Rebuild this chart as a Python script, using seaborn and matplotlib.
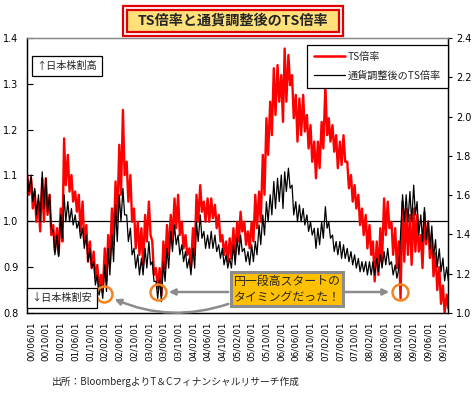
import matplotlib
matplotlib.use("Agg")
import numpy as np
import pandas as pd
import seaborn as sns
import matplotlib.pyplot as plt
from matplotlib.patches import Rectangle, FancyArrowPatch

# ---------------- data (two readings per month) ----------------
start_date = "2000-05-01"
ts_ratio = [
    1.101, 1.058, 1.094, 1.028, 1.065, 0.999, 1.043, 0.978, 1.094, 0.999, 1.094, 1.014, 1.058, 0.970, 0.992, 0.934, 0.985, 0.927, 1.028, 0.956,
    1.181, 1.079, 1.145, 1.065, 1.101, 1.043, 1.065, 1.021, 1.058, 0.978, 1.043, 0.956, 0.992, 0.912, 0.956, 0.898, 0.934, 0.876, 0.905, 0.854,
    0.883, 0.847, 0.941, 0.869, 0.970, 0.905, 1.028, 0.949, 1.087, 0.999, 1.167, 1.058, 1.243, 1.101, 1.130, 1.043, 1.101, 0.999, 1.028, 0.941,
    0.999, 0.927, 0.985, 0.905, 1.014, 0.956, 1.043, 0.970, 0.956, 0.883, 0.898, 0.854, 0.898, 0.839, 0.956, 0.898, 0.992, 0.927, 1.014, 0.956,
    1.050, 0.985, 1.058, 0.970, 0.999, 0.941, 0.970, 0.927, 0.941, 0.898, 0.985, 0.927, 1.058, 0.999, 1.079, 1.021, 1.043, 0.999, 1.050, 0.999,
    1.050, 1.007, 1.036, 0.985, 1.014, 0.956, 0.970, 0.927, 0.956, 0.912, 0.963, 0.919, 0.985, 0.927, 0.999, 0.956, 1.021, 0.978, 0.999, 0.949,
    0.978, 0.941, 0.999, 0.956, 1.058, 0.985, 1.065, 0.999, 1.145, 1.058, 1.225, 1.145, 1.261, 1.188, 1.334, 1.232, 1.341, 1.261, 1.319, 1.217,
    1.377, 1.261, 1.363, 1.297, 1.319, 1.225, 1.276, 1.174, 1.268, 1.188, 1.276, 1.196, 1.232, 1.159, 1.210, 1.130, 1.174, 1.094, 1.174, 1.116,
    1.217, 1.159, 1.297, 1.188, 1.225, 1.174, 1.210, 1.152, 1.188, 1.116, 1.174, 1.123, 1.188, 1.130, 1.130, 1.072, 1.101, 1.043, 1.079, 1.028,
    1.058, 0.992, 1.028, 0.970, 1.014, 0.941, 0.992, 0.927, 0.956, 0.869, 0.956, 0.883, 0.985, 0.912, 1.050, 0.970, 1.043, 0.985, 0.999, 0.927,
    0.985, 0.898, 0.956, 0.832, 1.043, 0.912, 1.028, 0.927, 1.014, 0.905, 1.028, 0.934, 1.014, 0.934, 0.970, 0.898, 1.020, 0.950, 1.000, 0.920,
    0.970, 0.880, 0.930, 0.850, 0.900, 0.820, 0.860, 0.800, 0.840, 0.810,
]
ts_ratio_fx_adjusted = [
    1.094, 1.065, 1.101, 1.043, 1.072, 1.014, 1.058, 0.999, 1.108, 1.028, 1.094, 1.021, 1.058, 0.985, 0.978, 0.927, 0.970, 0.923, 1.014, 0.963,
    1.058, 0.999, 1.043, 0.999, 1.028, 0.992, 1.014, 0.985, 0.999, 0.963, 0.985, 0.941, 0.970, 0.912, 0.941, 0.898, 0.912, 0.861, 0.883, 0.839,
    0.861, 0.832, 0.905, 0.847, 0.941, 0.883, 0.970, 0.912, 1.036, 0.956, 1.058, 0.999, 1.072, 1.014, 1.014, 0.956, 0.985, 0.927, 0.941, 0.898,
    0.927, 0.883, 0.919, 0.883, 0.941, 0.898, 0.956, 0.905, 0.912, 0.869, 0.869, 0.832, 0.876, 0.825, 0.912, 0.869, 0.941, 0.898, 0.978, 0.934,
    0.992, 0.949, 0.970, 0.927, 0.949, 0.912, 0.934, 0.898, 0.919, 0.883, 0.941, 0.898, 0.999, 0.956, 1.014, 0.963, 0.978, 0.941, 0.970, 0.941,
    0.978, 0.941, 0.970, 0.934, 0.949, 0.919, 0.941, 0.905, 0.927, 0.898, 0.919, 0.898, 0.949, 0.905, 0.963, 0.927, 0.970, 0.934, 0.941, 0.912,
    0.934, 0.905, 0.949, 0.912, 0.956, 0.927, 0.992, 0.949, 1.014, 0.970, 1.043, 0.999, 1.058, 1.014, 1.087, 1.028, 1.094, 1.043, 1.101, 1.028,
    1.108, 1.065, 1.116, 1.072, 1.079, 1.014, 1.043, 0.999, 1.036, 0.999, 1.028, 0.992, 1.014, 0.978, 0.999, 0.970, 0.985, 0.941, 0.985, 0.949,
    0.999, 0.963, 1.032, 0.985, 0.999, 0.963, 0.970, 0.934, 0.956, 0.927, 0.956, 0.919, 0.949, 0.919, 0.941, 0.912, 0.934, 0.905, 0.927, 0.898,
    0.919, 0.890, 0.912, 0.890, 0.912, 0.883, 0.912, 0.883, 0.912, 0.883, 0.919, 0.890, 0.927, 0.898, 0.934, 0.905, 0.941, 0.905, 0.912, 0.883,
    0.905, 0.876, 0.898, 0.970, 1.058, 0.999, 1.058, 0.999, 1.065, 0.999, 1.079, 1.014, 1.043, 0.970, 1.014, 0.956, 1.030, 0.960, 1.000, 0.940,
    0.990, 0.920, 0.960, 0.900, 0.940, 0.890, 0.920, 0.870, 0.900, 0.870,
]
series_labels = ["TS倍率", "通貨調整後のTS倍率"]
left_ticks = [0.8, 0.9, 1.0, 1.1, 1.2, 1.3, 1.4]
right_ticks = [1.0, 1.2, 1.4, 1.6, 1.8, 2.0, 2.2, 2.4]
x_tick_start, x_tick_end = "2000-06-01", "2009-10-01"
title = "TS倍率と通貨調整後のTS倍率"
note_high = "↑日本株割高"
note_low = "↓日本株割安"
callout = "円一段高スタートの\nタイミングだった！"
source = "出所：BloombergよりT＆Cフィナンシャルリサーチ作成"
circle_dates = ["2002-01-25", "2003-04-15", "2008-10-10"]
circle_values = [0.842, 0.845, 0.845]

# ---------------- figure ----------------
sns.set_theme(style="white")
plt.rcParams["font.family"] = ["Noto Sans CJK JP", "DejaVu Sans"]

W, H = 474, 393
fig = plt.figure(figsize=(W / 100, H / 100), dpi=100)
fig.patch.set_facecolor("white")

def fx(px):
    return px / W

def fy(py):
    return 1 - py / H

ax = fig.add_axes([fx(27), fy(313), fx(448) - fx(27), fy(38) - fy(313)])
ax.set_facecolor("white")

dates = pd.date_range(start_date, periods=len(ts_ratio), freq="SMS")
df = pd.DataFrame({"date": dates, series_labels[0]: ts_ratio, series_labels[1]: ts_ratio_fx_adjusted})

ax.axhline(1.0, color="black", lw=0.9, zorder=1)
sns.lineplot(data=df, x="date", y=series_labels[0], color="#ff0000", lw=1.7, ax=ax, zorder=2)
sns.lineplot(data=df, x="date", y=series_labels[1], color="black", lw=0.9, ax=ax, zorder=3)

ax.set_xlim(pd.Timestamp("2000-04-28"), pd.Timestamp("2009-11-12"))
ax.set_ylim(0.8, 1.4)
ax.set_xlabel("")
ax.set_ylabel("")
ax.set_yticks(left_ticks)
ax.set_yticklabels([f"{v:.1f}" for v in left_ticks], fontsize=7, family="DejaVu Sans")
xt = pd.date_range(x_tick_start, x_tick_end, freq="4MS")
ax.set_xticks(xt)
ax.set_xticklabels([d.strftime("%y/%m/%d") for d in xt], rotation=90, fontsize=6.3, family="DejaVu Sans")
ax.tick_params(axis="y", direction="in", length=4, width=0.8, pad=6, colors="black")
ax.tick_params(axis="x", direction="out", length=3, width=0.8, pad=3, colors="black")

ax2 = ax.twinx()
ax2.set_ylim(1.0, 2.4)
ax2.set_yticks(right_ticks)
ax2.set_yticklabels([f"{v:.1f}" for v in right_ticks], fontsize=7, family="DejaVu Sans")
ax2.tick_params(axis="y", direction="out", length=3, width=0.8, pad=3, colors="black")
ax2.grid(False)
ax.grid(False)

for a in (ax, ax2):
    for side in ("left", "bottom", "right"):
        a.spines[side].set_color("black")
        a.spines[side].set_linewidth(0.9)
    a.spines["top"].set_color("#888888")
    a.spines["top"].set_linewidth(0.9)

# circles marking the turning points
ax.plot(pd.to_datetime(circle_dates), circle_values, "o", ms=11.5, mfc="none",
        mec="#F58220", mew=1.8, zorder=5)

# legend
handles = [plt.Line2D([], [], color="#ff0000", lw=1.8), plt.Line2D([], [], color="black", lw=0.9)]
leg = ax2.legend(handles, series_labels, loc="upper right", bbox_to_anchor=(1.0, 0.975),
                 borderaxespad=0, frameon=True, fancybox=False, edgecolor="black", framealpha=1,
                 fontsize=7.3, handlelength=3.0, borderpad=0.7, labelspacing=0.85,
                 handletextpad=0.3)
leg.get_frame().set_linewidth(0.9)

# annotation boxes
fig.text(fx(67), fy(66), note_high, fontsize=7.3, ha="center", va="center",
         bbox=dict(boxstyle="square,pad=0.45", fc="white", ec="black", lw=0.9))
fig.text(fx(62), fy(298), note_low, fontsize=7.3, ha="center", va="center",
         bbox=dict(boxstyle="square,pad=0.45", fc="white", ec="black", lw=0.9))

fig.text(fx(287), fy(289), callout, fontsize=8.6, ha="center", va="center", linespacing=1.25,
         bbox=dict(boxstyle="square,pad=0.25", fc="#FFC000", ec="#8c8c8c", lw=2.2), zorder=6)

arrow_kw = dict(transform=fig.transFigure, arrowstyle="-|>", mutation_scale=9,
                color="#8c8c8c", lw=1.8, zorder=5)
fig.patches.append(FancyArrowPatch((fx(231), fy(303)), (fx(112), fy(298)),
                                   connectionstyle="arc3,rad=-0.2", **arrow_kw))
fig.patches.append(FancyArrowPatch((fx(231), fy(292)), (fx(166), fy(292)), **arrow_kw))
fig.patches.append(FancyArrowPatch((fx(342), fy(292)), (fx(392), fy(292)), **arrow_kw))

# title box (double red border, yellow fill)
fig.patches.append(Rectangle((fx(123), fy(36)), fx(343) - fx(123), fy(6) - fy(36),
                             transform=fig.transFigure, fc="white", ec="#e00000", lw=1.6))
fig.patches.append(Rectangle((fx(127), fy(32)), fx(339) - fx(127), fy(10) - fy(32),
                             transform=fig.transFigure, fc="#FFE07A", ec="#e00000", lw=1.6))
fig.text(fx(233), fy(21), title, fontsize=10.2, fontweight="bold", ha="center", va="center")

fig.text(fx(52), fy(382), source, fontsize=7, ha="left", va="center")

fig.savefig("out.png", dpi=100, facecolor="white")
